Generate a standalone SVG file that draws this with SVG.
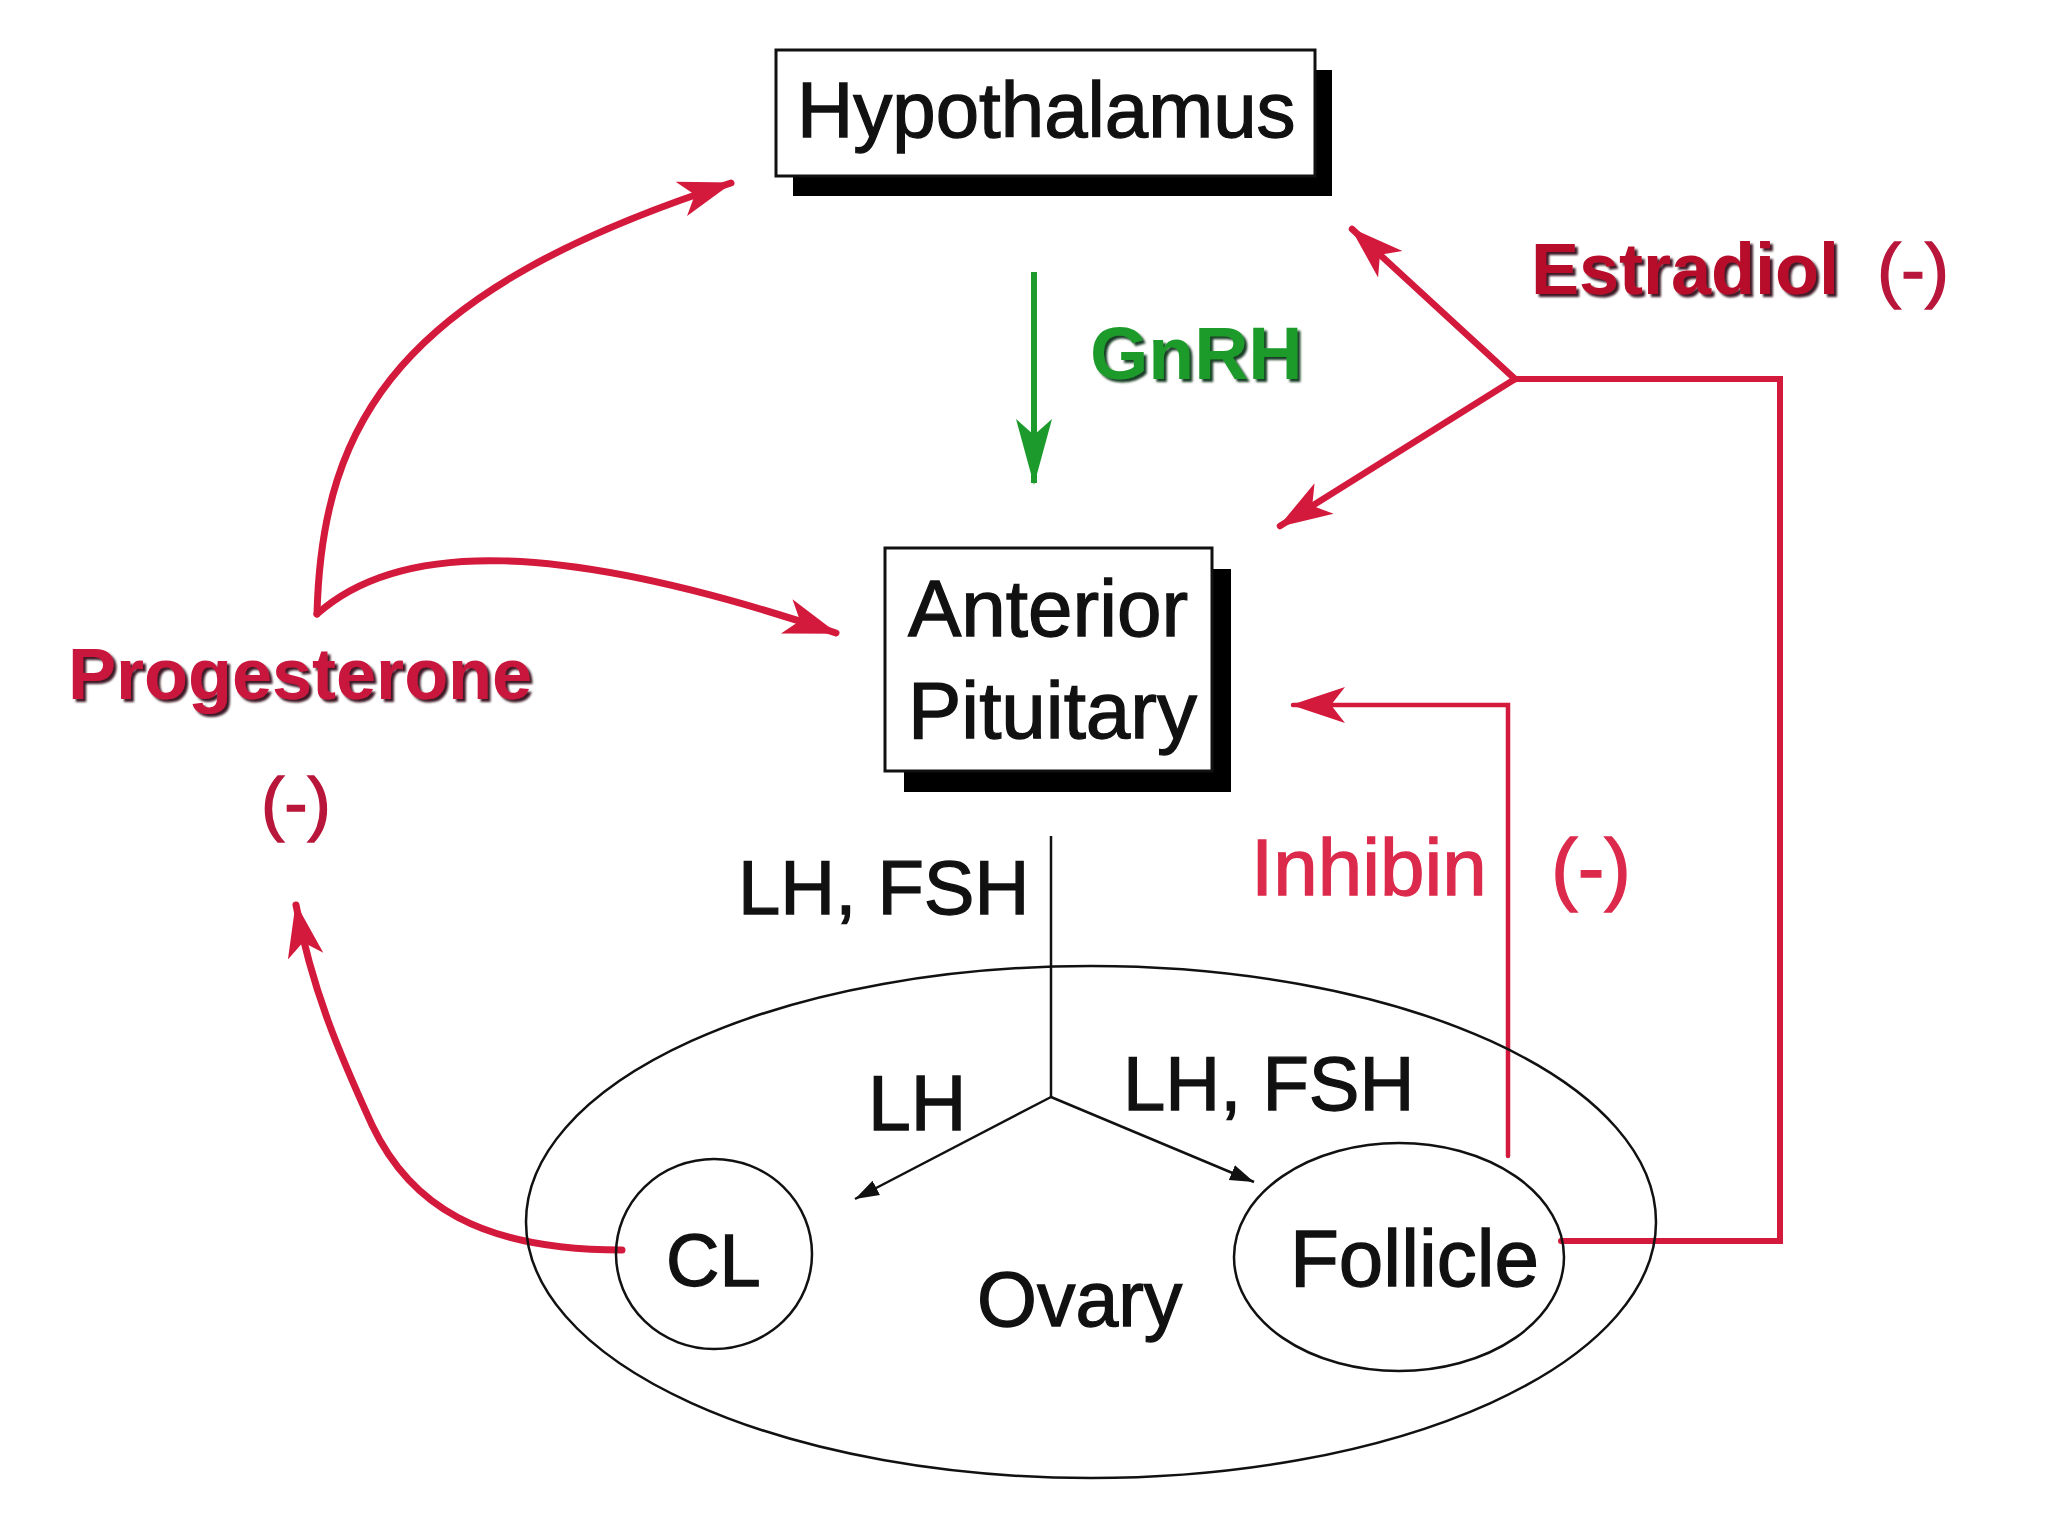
<svg xmlns="http://www.w3.org/2000/svg" width="2048" height="1536" viewBox="0 0 2048 1536">
<style>
.lbl{font-family:"Liberation Sans",Arial,sans-serif;fill:#111;stroke:#111;stroke-width:1.3}
.bold{font-weight:bold;stroke:none}
.box{fill:#fff;stroke:#111;stroke-width:3}
.shadow{fill:#000}
.thin{fill:none;stroke:#111;stroke-width:2.5}
.rl{fill:none;stroke:#d41a3c;stroke-linecap:round;stroke-linejoin:miter}
</style>
<defs>
<marker id="ar" viewBox="0 -20 54 40" refX="52" refY="0" markerWidth="54" markerHeight="40" markerUnits="userSpaceOnUse" orient="auto">
<path d="M0,-18 L54,0 L0,18 L14,0 Z" fill="#d41a3c"/>
</marker>
<marker id="ag" viewBox="0 -20 66 40" refX="64" refY="0" markerWidth="66" markerHeight="40" markerUnits="userSpaceOnUse" orient="auto">
<path d="M0,-18 L66,0 L0,18 L16,0 Z" fill="#1d9a2c"/>
</marker>
<marker id="ab" viewBox="0 -10 24 20" refX="24" refY="0" markerWidth="24" markerHeight="20" markerUnits="userSpaceOnUse" orient="auto">
<path d="M0,-8 L24,0 L0,8 Z" fill="#111"/>
</marker>
<filter id="ds" x="-10%" y="-20%" width="120%" height="150%">
<feDropShadow dx="3" dy="3" stdDeviation="1" flood-color="#2a0008" flood-opacity="0.9"/>
</filter>
<filter id="dsg" x="-10%" y="-20%" width="120%" height="150%">
<feDropShadow dx="3" dy="3" stdDeviation="1" flood-color="#062a0a" flood-opacity="0.9"/>
</filter>
</defs>
<rect width="2048" height="1536" fill="#fff"/>

<g id="connectors">
<path class="rl" stroke-width="7" d="M317,614 C322,420 400,290 731,183" marker-end="url(#ar)"/>
<path class="rl" stroke-width="7" d="M317,614 C400,540 560,540 836,633" marker-end="url(#ar)"/>
<path class="rl" stroke-width="7" d="M622,1250 C480,1250 410,1205 372,1125 C340,1055 312,990 296,905" marker-end="url(#ar)"/>
<path class="rl" stroke-width="6.5" d="M1515,379 L1352,229" marker-end="url(#ar)"/>
<path class="rl" stroke-width="6.5" d="M1515,379 L1280,526" marker-end="url(#ar)"/>
<path class="rl" stroke-width="6" d="M1515,379 L1780,379 L1780,1241 L1561,1241"/>
<path class="rl" stroke-width="4.5" d="M1508,1156 L1508,705 L1293,705" marker-end="url(#ar)"/>
<path fill="none" stroke="#1d9a2c" stroke-width="6" d="M1034,272 L1034,483" marker-end="url(#ag)"/>
<path class="thin" d="M1051,836 L1051,1097"/>
<path class="thin" d="M1051,1097 L855,1199" marker-end="url(#ab)"/>
<path class="thin" d="M1051,1097 L1254,1182" marker-end="url(#ab)"/>
</g>

<g id="hypothalamus">
<rect class="shadow" x="793" y="70" width="539" height="126"/>
<rect class="box" x="776" y="50" width="539" height="126"/>
<text class="lbl" x="797" y="137" font-size="78">Hypothalamus</text>
</g>

<g id="anterior-pituitary">
<rect class="shadow" x="904" y="569" width="327" height="223"/>
<rect class="box" x="885" y="548" width="327" height="223"/>
<text class="lbl" x="908" y="636" font-size="80">Anterior</text>
<text class="lbl" x="908" y="738" font-size="80">Pituitary</text>
</g>

<g id="gnrh">
<text class="lbl bold" x="1090" y="379" font-size="75" style="fill:#1d9a2c" filter="url(#dsg)">GnRH</text>
</g>

<g id="estradiol">
<text class="lbl bold" x="1531" y="294" font-size="72" style="fill:#b80f2c" filter="url(#ds)">Estradiol</text>
<text class="lbl" x="1877" y="294" font-size="72" style="fill:#b8163a;stroke:#b8163a">(-)</text>
</g>

<g id="progesterone">
<text class="lbl bold" x="68" y="699" font-size="72" style="fill:#c8143c" filter="url(#ds)">Progesterone</text>
<text class="lbl" x="261" y="827" font-size="70" style="fill:#b8163a;stroke:#b8163a">(-)</text>
</g>

<g id="inhibin">
<text class="lbl" x="1251" y="895" font-size="80" style="fill:#dc2a4c;stroke:#dc2a4c">Inhibin</text>
<text class="lbl" x="1551" y="895" font-size="80" style="fill:#dc2a4c;stroke:#dc2a4c">(-)</text>
</g>

<g id="lh-fsh-labels">
<text class="lbl" x="738" y="914" font-size="76">LH, FSH</text>
<text class="lbl" x="868" y="1130" font-size="77">LH</text>
<text class="lbl" x="1123" y="1110" font-size="76">LH, FSH</text>
</g>

<g id="ovary">
<ellipse cx="1091" cy="1222" rx="565" ry="256" fill="none" stroke="#111" stroke-width="2.5"/>
<text class="lbl" x="977" y="1326" font-size="77">Ovary</text>
</g>

<g id="cl">
<ellipse cx="714" cy="1254" rx="98" ry="95" fill="none" stroke="#111" stroke-width="2.5"/>
<text class="lbl" x="666" y="1286" font-size="74">CL</text>
</g>

<g id="follicle">
<ellipse cx="1399" cy="1257" rx="165" ry="114" fill="none" stroke="#111" stroke-width="2.5"/>
<text class="lbl" x="1290" y="1286" font-size="80">Follicle</text>
</g>
</svg>
